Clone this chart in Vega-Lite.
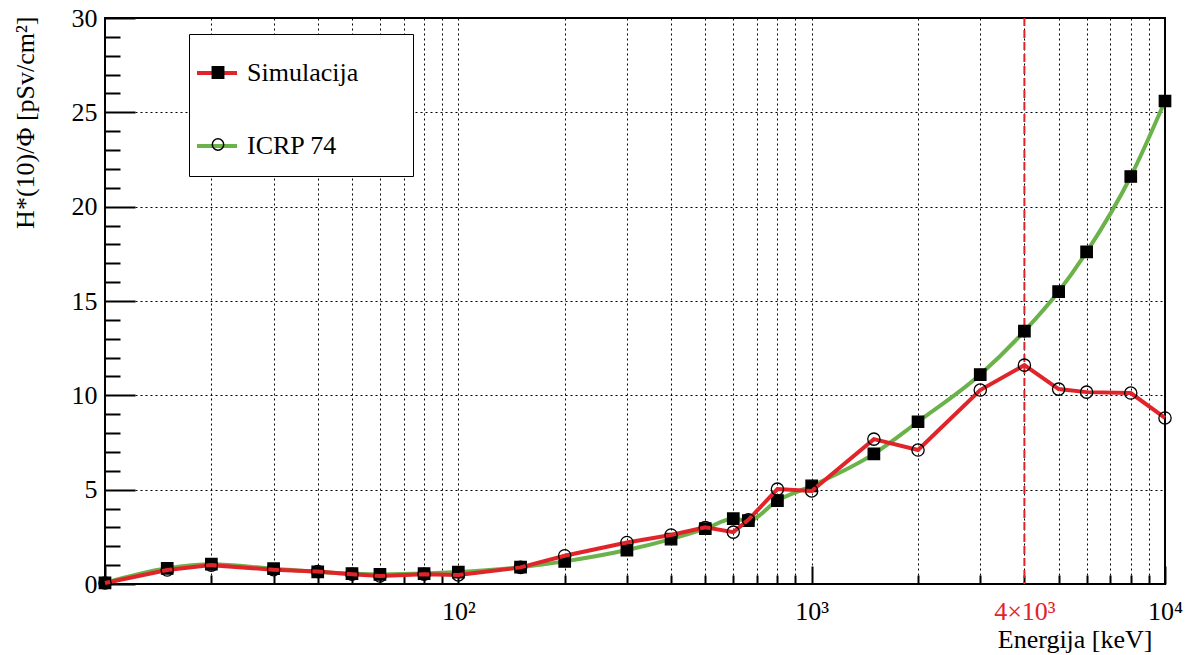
{
  "$schema": "https://vega.github.io/schema/vega-lite/v6.json",
  "width": 1060,
  "height": 566,
  "autosize": {"type": "none"},
  "padding": {"left": 105, "top": 18, "right": 26, "bottom": 71},
  "background": "white",
  "config": {
    "view": {"stroke": "black", "strokeWidth": 2},
    "font": "Liberation Serif",
    "axis": {
      "labelFont": "Liberation Serif", "titleFont": "Liberation Serif",
      "labelFontSize": 26, "titleFontSize": 26, "titleFontWeight": "normal",
      "labelColor": "black", "titleColor": "black", "domain": false,
      "tickColor": "black", "tickWidth": 2, "gridColor": "black", "gridDash": [2, 3],
      "gridWidth": 1, "labelOverlap": false, "labelFlush": false, "labelBound": false
    },
    "legend": {"labelFont": "Liberation Serif", "titleFont": "Liberation Serif"}
  },
  "data": {"values": [
    {"E": 10, "v": 0.061, "series": "ICRP 74", "marker": "square"},
    {"E": 15, "v": 0.83, "series": "ICRP 74", "marker": "square"},
    {"E": 20, "v": 1.05, "series": "ICRP 74", "marker": "square"},
    {"E": 30, "v": 0.81, "series": "ICRP 74", "marker": "square"},
    {"E": 40, "v": 0.64, "series": "ICRP 74", "marker": "square"},
    {"E": 50, "v": 0.55, "series": "ICRP 74", "marker": "square"},
    {"E": 60, "v": 0.51, "series": "ICRP 74", "marker": "square"},
    {"E": 80, "v": 0.55, "series": "ICRP 74", "marker": "square"},
    {"E": 100, "v": 0.63, "series": "ICRP 74", "marker": "square"},
    {"E": 150, "v": 0.89, "series": "ICRP 74", "marker": "square"},
    {"E": 200, "v": 1.2, "series": "ICRP 74", "marker": "square"},
    {"E": 300, "v": 1.8, "series": "ICRP 74", "marker": "square"},
    {"E": 400, "v": 2.38, "series": "ICRP 74", "marker": "square"},
    {"E": 500, "v": 2.93, "series": "ICRP 74", "marker": "square"},
    {"E": 600, "v": 3.46, "series": "ICRP 74", "marker": "square"},
    {"E": 662, "v": 3.36, "series": "ICRP 74", "marker": "square"},
    {"E": 800, "v": 4.42, "series": "ICRP 74", "marker": "square"},
    {"E": 1000, "v": 5.2, "series": "ICRP 74", "marker": "square"},
    {"E": 1500, "v": 6.9, "series": "ICRP 74", "marker": "square"},
    {"E": 2000, "v": 8.6, "series": "ICRP 74", "marker": "square"},
    {"E": 3000, "v": 11.1, "series": "ICRP 74", "marker": "square"},
    {"E": 4000, "v": 13.4, "series": "ICRP 74", "marker": "square"},
    {"E": 5000, "v": 15.5, "series": "ICRP 74", "marker": "square"},
    {"E": 6000, "v": 17.6, "series": "ICRP 74", "marker": "square"},
    {"E": 8000, "v": 21.6, "series": "ICRP 74", "marker": "square"},
    {"E": 10000, "v": 25.6, "series": "ICRP 74", "marker": "square"},
    {"E": 10, "v": 0.05, "series": "Simulacija", "marker": "circle"},
    {"E": 15, "v": 0.74, "series": "Simulacija", "marker": "circle"},
    {"E": 20, "v": 1.0, "series": "Simulacija", "marker": "circle"},
    {"E": 30, "v": 0.76, "series": "Simulacija", "marker": "circle"},
    {"E": 40, "v": 0.66, "series": "Simulacija", "marker": "circle"},
    {"E": 50, "v": 0.52, "series": "Simulacija", "marker": "circle"},
    {"E": 60, "v": 0.42, "series": "Simulacija", "marker": "circle"},
    {"E": 80, "v": 0.52, "series": "Simulacija", "marker": "circle"},
    {"E": 100, "v": 0.48, "series": "Simulacija", "marker": "circle"},
    {"E": 150, "v": 0.88, "series": "Simulacija", "marker": "circle"},
    {"E": 200, "v": 1.5, "series": "Simulacija", "marker": "circle"},
    {"E": 300, "v": 2.2, "series": "Simulacija", "marker": "circle"},
    {"E": 400, "v": 2.6, "series": "Simulacija", "marker": "circle"},
    {"E": 500, "v": 3.0, "series": "Simulacija", "marker": "circle"},
    {"E": 600, "v": 2.75, "series": "Simulacija", "marker": "circle"},
    {"E": 662, "v": 3.4, "series": "Simulacija", "marker": "circle"},
    {"E": 800, "v": 5.03, "series": "Simulacija", "marker": "circle"},
    {"E": 1000, "v": 4.93, "series": "Simulacija", "marker": "circle"},
    {"E": 1500, "v": 7.68, "series": "Simulacija", "marker": "circle"},
    {"E": 2000, "v": 7.1, "series": "Simulacija", "marker": "circle"},
    {"E": 3000, "v": 10.28, "series": "Simulacija", "marker": "circle"},
    {"E": 4000, "v": 11.6, "series": "Simulacija", "marker": "circle"},
    {"E": 5000, "v": 10.33, "series": "Simulacija", "marker": "circle"},
    {"E": 6000, "v": 10.17, "series": "Simulacija", "marker": "circle"},
    {"E": 8000, "v": 10.12, "series": "Simulacija", "marker": "circle"},
    {"E": 10000, "v": 8.8, "series": "Simulacija", "marker": "circle"}
  ]},
  "layer": [
    {
      "transform": [{"filter": "datum.series == 'ICRP 74'"}],
      "mark": {"type": "line", "strokeWidth": 4, "interpolate": "monotone"},
      "encoding": {
        "x": {"field": "E", "type": "quantitative",
          "scale": {"type": "log", "domain": [10, 10000], "nice": false},
          "axis": {
            "values": [10, 20, 30, 40, 50, 60, 70, 80, 90, 100, 200, 300, 400, 500, 600, 700, 800, 900, 1000, 2000, 3000, 4000, 5000, 6000, 7000, 8000, 9000, 10000],
            "tickCount": 100,
            "title": "Energija [keV]",
            "titleFont": "Liberation Serif", "labelFont": "Liberation Serif",
            "titleX": 1047, "titleY": 63, "titleAlign": "right", "titleBaseline": "alphabetic", "titleAnchor": "end",
            "labelExpr": "datum.value == 100 ? '10²' : datum.value == 1000 ? '10³' : datum.value == 4000 ? '4×10³' : datum.value == 10000 ? '10⁴' : ''",
            "labelColor": {"condition": {"test": "datum.value == 4000", "value": "#e0242a"}, "value": "black"},
            "tickSize": {"condition": {"test": "datum.value == 10 || datum.value == 100 || datum.value == 1000 || datum.value == 10000", "value": -18}, "value": -9},
            "labelPadding": {"condition": {"test": "datum.value == 10 || datum.value == 100 || datum.value == 1000 || datum.value == 10000", "value": 32}, "value": 23},
            "grid": true
          }
        },
        "y": {"field": "v", "type": "quantitative",
          "scale": {"domain": [0, 30], "nice": false, "zero": false},
          "axis": {
            "values": [0, 1, 2, 3, 4, 5, 6, 7, 8, 9, 10, 11, 12, 13, 14, 15, 16, 17, 18, 19, 20, 21, 22, 23, 24, 25, 26, 27, 28, 29, 30],
            "tickCount": 100,
            "format": "d",
            "title": "H*(10)/Φ [pSv/cm²]",
            "titleFont": "Liberation Serif", "labelFont": "Liberation Serif",
            "titleX": -72, "titleY": -2, "titleAngle": 270, "titleAlign": "right", "titleBaseline": "alphabetic",
            "labelExpr": "datum.value % 5 == 0 ? datum.label : ''",
            "tickSize": {"condition": {"test": "datum.value % 5 == 0", "value": -30}, "value": -15},
            "labelPadding": 38,
            "grid": true,
            "gridOpacity": {"condition": {"test": "datum.value % 5 == 0", "value": 1}, "value": 0}
          }
        },
        "color": {"field": "series", "type": "nominal",
          "scale": {"domain": ["Simulacija", "ICRP 74"], "range": ["#e0242a", "#6cb24a"]},
          "legend": {
            "title": "—", "titleOrient": "right", "titleFontSize": 26, "titlePadding": 12, "titleOpacity": 0,
            "orient": "none", "legendX": 84, "legendY": 16, "zindex": 1,
            "symbolType": "stroke", "symbolStrokeWidth": 4, "symbolSize": 1600,
            "labelFont": "Liberation Serif", "labelFontSize": 26, "labelColor": "black", "labelLimit": 400,
            "fillColor": "white", "strokeColor": "black", "padding": 17, "rowPadding": 38,
            "symbolOffset": -11, "labelOffset": 8
          }
        }
      }
    },
    {
      "data": {"values": [{"E": 4000}]},
      "mark": {"type": "rule", "color": "#e0242a", "strokeWidth": 2, "strokeDash": [8, 4]},
      "encoding": {"x": {"field": "E", "type": "quantitative"}}
    },
    {
      "transform": [{"filter": "datum.marker == 'square'"}],
      "mark": {"type": "point", "filled": true, "opacity": 1, "size": 130, "stroke": "black", "strokeWidth": 1.3},
      "encoding": {
        "x": {"field": "E", "type": "quantitative"},
        "y": {"field": "v", "type": "quantitative"},
        "shape": {"field": "marker", "type": "nominal", "scale": {"domain": ["square", "circle"], "range": ["square", "circle"]},
          "legend": {"title": null, "orient": "none", "legendX": 84, "legendY": 36, "zindex": 2, "labelFontSize": 1, "labelOpacity": 0, "padding": 12, "rowPadding": 53, "symbolOffset": 10.5, "labelExpr": "''", "symbolSize": 130,
            "encode": {"symbols": {"update": {"fill": {"signal": "datum.value == 'square' ? 'black' : 'transparent'"}, "stroke": {"value": "black"}, "strokeWidth": {"value": 1.3}, "opacity": {"value": 1}}}}}},
        "fill": {"field": "marker", "type": "nominal", "scale": {"domain": ["square", "circle"], "range": ["black", "transparent"]}, "legend": null}
      }
    },
    {
      "transform": [{"filter": "datum.series == 'Simulacija'"}],
      "mark": {"type": "line", "strokeWidth": 4},
      "encoding": {
        "x": {"field": "E", "type": "quantitative"},
        "y": {"field": "v", "type": "quantitative"},
        "color": {"field": "series", "type": "nominal"}
      }
    },
    {
      "transform": [{"filter": "datum.marker == 'circle'"}],
      "mark": {"type": "point", "filled": true, "opacity": 1, "size": 150, "stroke": "black", "strokeWidth": 1.3},
      "encoding": {
        "x": {"field": "E", "type": "quantitative"},
        "y": {"field": "v", "type": "quantitative"},
        "shape": {"field": "marker", "type": "nominal"},
        "fill": {"field": "marker", "type": "nominal", "legend": null}
      }
    }
  ]
}
